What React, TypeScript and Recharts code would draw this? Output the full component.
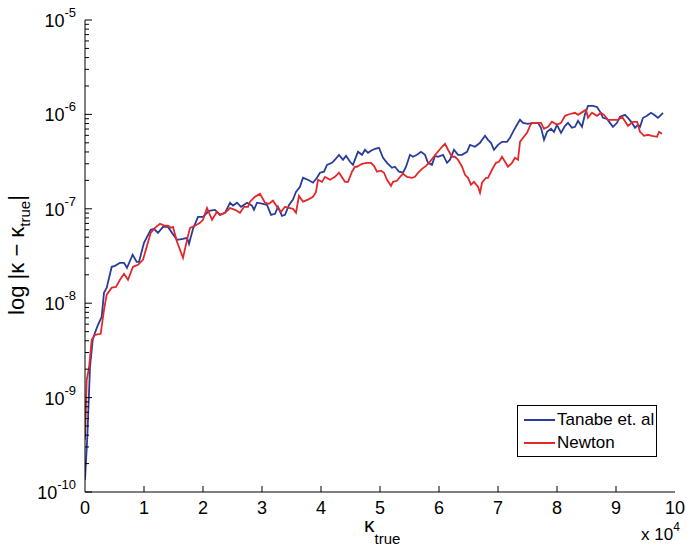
import React from "react";
import { LineChart, Line, XAxis, YAxis } from "recharts";

// [kappa_true, |kappa - kappa_true|]
const tanabePoints: [number, number][] = [
  [0, 1.35e-10], [390, 3.8e-10], [850, 2.12e-9], [1310, 4.1e-9], [1690, 4.86e-9],
  [2200, 5.9e-9], [2830, 7.18e-9], [3220, 1.29e-8], [3680, 1.46e-8], [4530, 2.43e-8],
  [5080, 2.49e-8], [5930, 2.68e-8], [6610, 2.68e-8], [7120, 2.37e-8], [8080, 3.26e-8],
  [8760, 2.74e-8], [9150, 2.74e-8], [10000, 4.36e-8], [11140, 5.99e-8], [11690, 6.13e-8],
  [12370, 5.56e-8], [13220, 6.43e-8], [14070, 6.43e-8], [14750, 5.56e-8], [15590, 4.69e-8],
  [16610, 4.81e-8], [17290, 4.93e-8], [17630, 4.26e-8], [18310, 6.13e-8], [19150, 8.22e-8],
  [20000, 8.22e-8], [21020, 9.52e-8], [22030, 9.75e-8], [22880, 8.63e-8], [23730, 9.07e-8],
  [24580, 1.16e-7], [25080, 1.08e-7], [25760, 1.16e-7], [26440, 1.05e-7], [27460, 1.16e-7],
  [28310, 1.08e-7], [28640, 9.75e-8], [29150, 1.16e-7], [30170, 1.13e-7], [30850, 1.1e-7],
  [31530, 8.63e-8], [32200, 8.85e-8], [32710, 1.05e-7], [33390, 8.43e-8], [33900, 8.63e-8],
  [34580, 1.1e-7], [35250, 1.25e-7], [35760, 1.51e-7], [36440, 1.71e-7], [36950, 2.13e-7],
  [37800, 2.03e-7], [38640, 1.89e-7], [39320, 2.13e-7], [39830, 2.41e-7], [40510, 2.47e-7],
  [41020, 2.92e-7], [41860, 3.07e-7], [42370, 3.31e-7], [43050, 3.73e-7], [43730, 3.31e-7],
  [44240, 3.64e-7], [44920, 3.15e-7], [45420, 2.92e-7], [46270, 4.02e-7], [46950, 3.73e-7],
  [47460, 4.22e-7], [47970, 3.92e-7], [48470, 4.12e-7], [49150, 4.32e-7], [49830, 4.43e-7],
  [50510, 3.47e-7], [51190, 3.07e-7], [52030, 2.72e-7], [52540, 2.79e-7], [53220, 2.47e-7],
  [53900, 2.41e-7], [54410, 2.79e-7], [55080, 3.73e-7], [55590, 3.56e-7], [56270, 3.73e-7],
  [56950, 4.02e-7], [57630, 3.73e-7], [58140, 3.07e-7], [58810, 2.92e-7], [59320, 3.64e-7],
  [59830, 3.56e-7], [60680, 3.73e-7], [61360, 3.07e-7], [61860, 3.31e-7], [62540, 4.22e-7],
  [63220, 3.73e-7], [63900, 3.73e-7], [64750, 4.02e-7], [65250, 4.76e-7], [66100, 4.54e-7],
  [66950, 5.0e-7], [67800, 5.93e-7], [68310, 5.38e-7], [68810, 5.0e-7], [69320, 4.22e-7],
  [70000, 4.76e-7], [70680, 5.12e-7], [71530, 5.12e-7], [72030, 5.65e-7], [72540, 6.54e-7],
  [73220, 7.76e-7], [73730, 8.77e-7], [74240, 8.14e-7], [75080, 7.95e-7], [75930, 8.14e-7],
  [76780, 8.14e-7], [77290, 7.21e-7], [77800, 5.38e-7], [78310, 6.54e-7], [78980, 7.04e-7],
  [79490, 6.54e-7], [80000, 7.76e-7], [80680, 6.38e-7], [81360, 7.57e-7], [81860, 8.14e-7],
  [82540, 7.21e-7], [83050, 7.39e-7], [83560, 8.55e-7], [84240, 7.39e-7], [84750, 1.01e-6],
  [85250, 1.23e-6], [86100, 1.23e-6], [86780, 1.2e-6], [87290, 1.07e-6], [87800, 9.2e-7],
  [88470, 8.98e-7], [88980, 8.14e-7], [89490, 7.39e-7], [90170, 8.14e-7], [90680, 9.43e-7],
  [91530, 9.9e-7], [92030, 9.2e-7], [92710, 8.14e-7], [93220, 7.21e-7], [93730, 7.76e-7],
  [94070, 7.39e-7], [94580, 9.2e-7], [95250, 9.66e-7], [95930, 1.04e-6], [96440, 9.9e-7],
  [97120, 9.2e-7], [97970, 1.04e-6],
];

const newtonPoints: [number, number][] = [
  [0, 3.57e-10], [290, 1.54e-9], [680, 2.07e-9], [1140, 4.1e-9], [1690, 4.63e-9],
  [2660, 4.74e-9], [3220, 8.51e-9], [3680, 1.23e-8], [4530, 1.46e-8], [5250, 1.49e-8],
  [5930, 1.77e-8], [6610, 2.05e-8], [7290, 1.77e-8], [8140, 2.43e-8], [8980, 2.55e-8],
  [9830, 2.88e-8], [10460, 3.96e-8], [11140, 5.56e-8], [11860, 6.29e-8], [12710, 6.94e-8],
  [13560, 6.61e-8], [14070, 6.61e-8], [14580, 6.29e-8], [14920, 6.43e-8], [15590, 4.47e-8],
  [16100, 3.68e-8], [16610, 3.02e-8], [17290, 4.69e-8], [17800, 6.29e-8], [18640, 6.61e-8],
  [19490, 7.1e-8], [20000, 7.64e-8], [20680, 1.02e-7], [21530, 7.64e-8], [22370, 9.3e-8],
  [22880, 8.63e-8], [23730, 9.07e-8], [24580, 1.02e-7], [25420, 9.75e-8], [26270, 9.07e-8],
  [26950, 1.05e-7], [27630, 1.05e-7], [27970, 1.19e-7], [28810, 1.34e-7], [29660, 1.44e-7],
  [30510, 1.16e-7], [31190, 1.13e-7], [31860, 1.22e-7], [32540, 1.05e-7], [33220, 9.3e-8],
  [33900, 1.05e-7], [34580, 1.02e-7], [35250, 1.0e-7], [35760, 9.07e-8], [36270, 1.37e-7],
  [36950, 1.19e-7], [37800, 1.25e-7], [38640, 1.34e-7], [39150, 1.51e-7], [39490, 2.03e-7],
  [40170, 1.93e-7], [40680, 2.18e-7], [41530, 2.03e-7], [42370, 2.18e-7], [43050, 2.41e-7],
  [44070, 1.93e-7], [44580, 1.93e-7], [45250, 2.47e-7], [45760, 2.79e-7], [46100, 2.79e-7],
  [46950, 3.0e-7], [47800, 3.07e-7], [48470, 3.07e-7], [48980, 2.85e-7], [49490, 2.47e-7],
  [50170, 2.53e-7], [50680, 2.41e-7], [51190, 2.03e-7], [51860, 1.75e-7], [52200, 1.93e-7],
  [52880, 1.98e-7], [53560, 2.24e-7], [53900, 2.35e-7], [54580, 2.18e-7], [55420, 2.13e-7],
  [55930, 2.18e-7], [56440, 2.41e-7], [57120, 2.65e-7], [57800, 2.85e-7], [58310, 3.07e-7],
  [58980, 3.47e-7], [59660, 3.92e-7], [60510, 4.54e-7], [61020, 4.88e-7], [61530, 4.22e-7],
  [62200, 3.56e-7], [62710, 3.56e-7], [63220, 3.31e-7], [63900, 2.79e-7], [64410, 2.29e-7],
  [64920, 2.13e-7], [65420, 1.8e-7], [65930, 1.93e-7], [66610, 1.71e-7], [66950, 1.48e-7],
  [67290, 1.89e-7], [67970, 2.13e-7], [68310, 2.13e-7], [68980, 2.59e-7], [69660, 3.07e-7],
  [70170, 3.15e-7], [70680, 3.56e-7], [71190, 3.15e-7], [71690, 2.79e-7], [72370, 3.07e-7],
  [72880, 3.47e-7], [73390, 3.31e-7], [73730, 5.12e-7], [74240, 5.65e-7], [74920, 6.38e-7],
  [75420, 7.57e-7], [75760, 8.14e-7], [76610, 8.14e-7], [77290, 8.14e-7], [77800, 7.04e-7],
  [78470, 7.39e-7], [79150, 8.35e-7], [80000, 7.76e-7], [80680, 8.14e-7], [81360, 9.66e-7],
  [82200, 1.01e-6], [83050, 1.04e-6], [83560, 9.9e-7], [84410, 1.07e-6], [84920, 1.12e-6],
  [85250, 9.2e-7], [85930, 1.04e-6], [86780, 9.66e-7], [87460, 1.04e-6], [87970, 9.9e-7],
  [88640, 8.77e-7], [89490, 8.77e-7], [90340, 8.77e-7], [91020, 9.43e-7], [91690, 8.14e-7],
  [92030, 7.57e-7], [92880, 8.35e-7], [93560, 8.35e-7], [94070, 6.54e-7], [94750, 5.93e-7],
  [95420, 6.08e-7], [96100, 5.93e-7], [96950, 5.79e-7], [97290, 6.54e-7], [97800, 6.23e-7],
];

const xTicks = [0, 10000, 20000, 30000, 40000, 50000, 60000, 70000, 80000, 90000, 100000];
const yExponents = [-10, -9, -8, -7, -6, -5];
const minorMultipliers = [2, 3, 4, 5, 6, 7, 8, 9];

const yMajor = yExponents.map((e) => Math.pow(10, e));
const yTicks = [
  ...yMajor,
  ...yExponents.slice(0, -1).flatMap((e) => minorMultipliers.map((m) => m * Math.pow(10, e))),
].sort((a, b) => a - b);

const tanabe = tanabePoints.map(([k, v]) => ({ k, v }));
const newton = newtonPoints.map(([k, v]) => ({ k, v }));

const FONT = "'Liberation Sans', Arial, Helvetica, sans-serif";
const BLUE = "#2a3c9a";
const RED = "#e3282b";

const isMajor = (v: number) => {
  const l = Math.log10(v);
  return Math.abs(l - Math.round(l)) < 1e-6;
};

const LeftTick = ({ x, y, payload }: any) => {
  const v = payload.value;
  const major = isMajor(v);
  return (
    <g>
      <line x1={x} x2={x + (major ? 7 : 4)} y1={y} y2={y} stroke="#000" />
      {major && (
        <text x={x - 9} y={y + 7} textAnchor="end" fontSize={18} fontFamily={FONT} fill="#000">
          10
          <tspan dy={-10} fontSize={13}>
            {Math.round(Math.log10(v))}
          </tspan>
        </text>
      )}
    </g>
  );
};

const RightTick = ({ x, y, payload }: any) => {
  const major = isMajor(payload.value);
  return <line x1={x} x2={x - (major ? 7 : 4)} y1={y} y2={y} stroke="#000" />;
};

const BottomTick = ({ x, y, payload }: any) => (
  <g>
    {payload.value > 0 && payload.value < 100000 && (
      <line x1={x} x2={x} y1={y} y2={y - 6} stroke="#000" />
    )}
    <text x={x} y={y + 22} textAnchor="middle" fontSize={18} fontFamily={FONT} fill="#000">
      {payload.value / 10000}
    </text>
  </g>
);

const TopTick = ({ x, y, payload }: any) =>
  payload.value > 0 && payload.value < 100000 ? (
    <line x1={x} x2={x} y1={y} y2={y + 6} stroke="#000" />
  ) : null;

const YLabel = () => (
  <text
    transform="translate(24, 255) rotate(-90)"
    textAnchor="middle"
    fontSize={22}
    fontFamily={FONT}
    fill="#000"
  >
    log |κ − κ
    <tspan dy={6} fontSize={15}>
      true
    </tspan>
    <tspan dy={-6}>|</tspan>
  </text>
);

const XLabel = () => (
  <g fontFamily={FONT} fill="#000">
    <text x={364} y={532} fontSize={21}>
      κ
      <tspan dy={12} fontSize={15}>
        true
      </tspan>
    </text>
    <text x={641} y={540} fontSize={17}>
      x 10
      <tspan dy={-9} fontSize={12}>
        4
      </tspan>
    </text>
  </g>
);

const LegendBox = () => (
  <div
    style={{
      position: "absolute",
      left: 517,
      top: 405,
      width: 140,
      height: 52,
      border: "1px solid #000",
      background: "#fff",
      fontFamily: FONT,
      fontSize: 17,
      boxSizing: "border-box",
    }}
  >
    {[
      { name: "Tanabe et. al", color: BLUE },
      { name: "Newton", color: RED },
    ].map((s, i) => (
      <div
        key={s.name}
        style={{ position: "absolute", left: 6, top: 3 + i * 23, height: 22, display: "flex", alignItems: "center" }}
      >
        <span style={{ display: "inline-block", width: 31, height: 2, background: s.color, marginRight: 2 }} />
        <span>{s.name}</span>
      </div>
    ))}
  </div>
);

export default function App() {
  return (
    <div style={{ position: "absolute", left: 0, top: 0, width: 686, height: 549, background: "#fff" }}>
      <LineChart width={686} height={549} margin={{ top: 20, right: 11, bottom: 0, left: 0 }}>
        <XAxis
          dataKey="k"
          type="number"
          domain={[0, 100000]}
          ticks={xTicks}
          interval={0}
          height={57}
          tickSize={0}
          tickMargin={0}
          tickLine={false}
          tick={<BottomTick />}
          axisLine={{ stroke: "#000" }}
          allowDataOverflow
          label={<XLabel />}
        />
        <XAxis
          xAxisId="top"
          orientation="top"
          type="number"
          domain={[0, 100000]}
          ticks={xTicks}
          interval={0}
          height={0}
          tickSize={0}
          tickMargin={0}
          tickLine={false}
          tick={<TopTick />}
          axisLine={{ stroke: "#000" }}
          allowDataOverflow
        />
        <YAxis
          type="number"
          scale="log"
          domain={[1e-10, 1e-5]}
          ticks={yTicks}
          interval={0}
          width={85}
          tickSize={0}
          tickMargin={0}
          tickLine={false}
          tick={<LeftTick />}
          axisLine={{ stroke: "#000" }}
          allowDataOverflow
          label={<YLabel />}
        />
        <YAxis
          yAxisId="right"
          orientation="right"
          type="number"
          scale="log"
          domain={[1e-10, 1e-5]}
          ticks={yTicks}
          interval={0}
          width={0}
          tickSize={0}
          tickMargin={0}
          tickLine={false}
          tick={<RightTick />}
          axisLine={{ stroke: "#000" }}
          allowDataOverflow
        />
        <Line
          data={tanabe}
          dataKey="v"
          stroke={BLUE}
          strokeWidth={1.8}
          dot={false}
          isAnimationActive={false}
        />
        <Line
          data={newton}
          dataKey="v"
          stroke={RED}
          strokeWidth={1.8}
          dot={false}
          isAnimationActive={false}
        />
      </LineChart>
      <LegendBox />
    </div>
  );
}
